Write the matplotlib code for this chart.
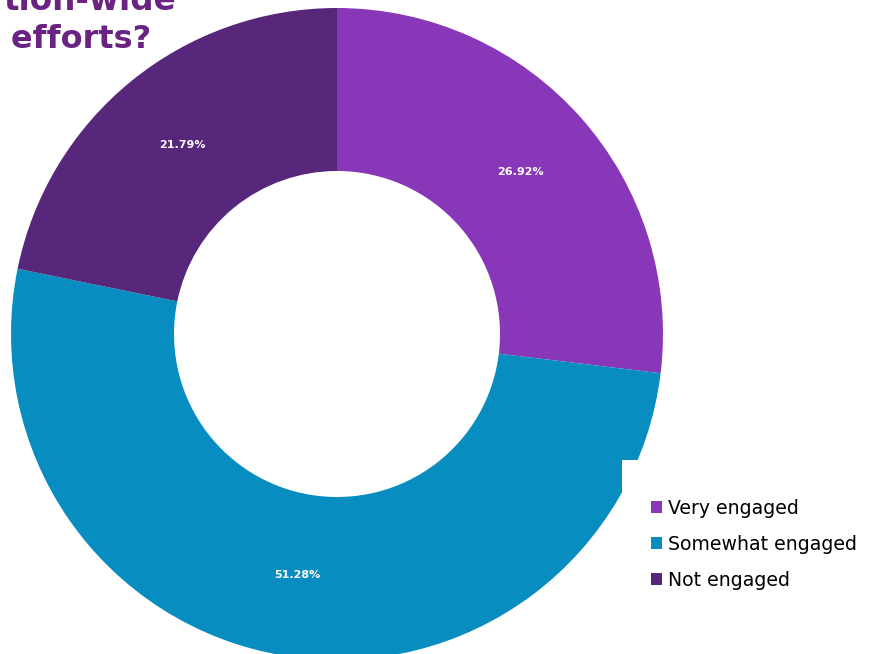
import matplotlib
matplotlib.use("Agg")
import matplotlib.pyplot as plt
from matplotlib.patches import Patch, Rectangle

# engagement shares, clockwise from 12 o'clock
categories = ["Very engaged", "Somewhat engaged", "Not engaged"]
shares = [26.92, 51.28, 21.79]
colors = ["#8737B8", "#078DBF", "#56277A"]
title_lines = ["tion-wide", "y efforts?"]

plt.rcParams['font.family'] = ['DejaVu Sans']

W, H = 887, 654
fig = plt.figure(figsize=(W/100, H/100), dpi=100)

# donut: centre (337, 334) px, outer radius 326 px
cx, cy, r = 337, 334, 326
ax = fig.add_axes([(cx-r)/W, (H-cy-r)/H, 2*r/W, 2*r/H])

wedges, _, autotexts = ax.pie(shares, colors=colors, startangle=90, counterclock=False,
                              radius=1, autopct=lambda p: f"{p:.2f}%", pctdistance=0.75,
                              wedgeprops=dict(width=0.5, edgecolor='none'),
                              textprops=dict(color='white', fontsize=8, fontweight='bold'))
for t, v in zip(autotexts, shares):
  t.set_text(f"{v:.2f}%")
ax.set_xlim(-1, 1)
ax.set_ylim(-1, 1)
ax.set_aspect('equal')
ax.axis('off')

# title, cut at the top and left edges
fig.text(176/W, 1-10/H, title_lines[0], ha='right', va='baseline', fontsize=23.5,
         fontweight='bold', color='#6A2383')
fig.text(151/W, 1-48/H, title_lines[1], ha='right', va='baseline', fontsize=23,
         fontweight='bold', color='#6A2383')

# white panel behind the legend
fig.patches.append(Rectangle((622/W, 0), 1, 1-460/H, transform=fig.transFigure,
                             facecolor='white', edgecolor='none', zorder=5))

handles = [Patch(facecolor=c, edgecolor='none') for c in colors]
leg = fig.legend(handles, categories, loc='upper left', bbox_to_anchor=(651/W, 1-499/H),
                 frameon=False, fontsize=13.6, handlelength=0.6, handleheight=0.6,
                 handletextpad=0.3, labelspacing=0.9, borderpad=0, borderaxespad=0)
for t in leg.get_texts():
  t.set_fontweight('medium')
leg.set_zorder(6)

fig.savefig("out.png", dpi=100)
